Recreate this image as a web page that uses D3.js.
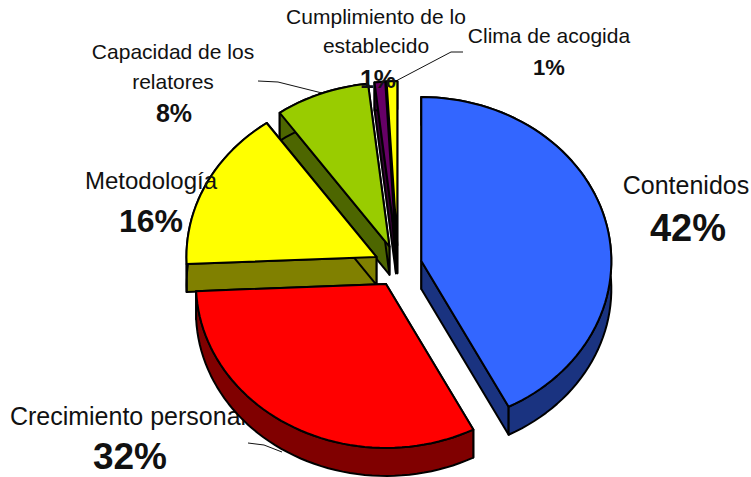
<!DOCTYPE html>
<html>
<head>
<meta charset="utf-8">
<script src="https://cdnjs.cloudflare.com/ajax/libs/d3/7.8.5/d3.min.js"></script>
<style>
  html, body { margin: 0; padding: 0; background: #fff; }
  text { font-family: "Liberation Sans", Arial, sans-serif; fill: #111; }
</style>
</head>
<body>
<div id="wrapper"></div>
<script>
const categories = ["Contenidos", "Crecimiento personal", "Metodología", "Capacidad de los relatores", "Cumplimiento de lo establecido", "Clima de acogida"]
const values = [42.4, 31.9, 15.9, 8, 0.9, 0.9]
const colors = ["#3366ff", "#ff0000", "#ffff00", "#99cc00", "#660066", "#ffff00"]

const width = 751
const height = 477
const dimensions = { cx: 398, cy: 266, rx: 190, ry: 164, depth: 28, explode: 24 }

const svg = d3.select("#wrapper").append("svg")
  .attr("width", width)
  .attr("height", height)
  .style("display", "block")

const xScale = d3.scaleLinear().domain([-1, 1]).range([dimensions.cx - dimensions.rx, dimensions.cx + dimensions.rx])
const yScale = d3.scaleLinear().domain([-1, 1]).range([dimensions.cy - dimensions.ry, dimensions.cy + dimensions.ry])

const pie = d3.pie().sort(null).startAngle(0).endAngle(2 * Math.PI)
const slices = pie(values).map((d, i) => ({ ...d, name: categories[i], color: colors[i] }))

const line = d3.line().x(d => d[0]).y(d => d[1])

// point on the ellipse, r 0..1, then pushed out along the slice's middle
const project = (slice, angle, r, drop) => {
  const mid = (slice.startAngle + slice.endAngle) / 2
  const k = dimensions.explode / dimensions.rx
  const u = r * Math.sin(angle) + k * Math.sin(mid)
  const v = -r * Math.cos(angle) - k * Math.cos(mid)
  return [xScale(u), yScale(v) + drop]
}

const rimAngles = slice => {
  const n = Math.max(2, Math.ceil((slice.endAngle - slice.startAngle) / 0.04))
  return d3.range(n + 1).map(i => slice.startAngle + (slice.endAngle - slice.startAngle) * i / n)
}

const radialWall = (slice, angle) => line([
  project(slice, angle, 0, 0),
  project(slice, angle, 1, 0),
  project(slice, angle, 1, dimensions.depth),
  project(slice, angle, 0, dimensions.depth)
]) + "Z"

const rimWall = slice => {
  const a = rimAngles(slice)
  return line([
    ...a.map(t => project(slice, t, 1, 0)),
    ...a.slice().reverse().map(t => project(slice, t, 1, dimensions.depth))
  ]) + "Z"
}

const topFace = slice => line([
  project(slice, slice.startAngle, 0, 0),
  ...rimAngles(slice).map(t => project(slice, t, 1, 0))
]) + "Z"

// leader lines and the label the pie sits on top of
const leaders = [
  [[258, 81], [278, 82], [326, 94]],
  [[463, 52], [451, 52], [394, 82]],
  [[248, 443], [264, 445], [282, 452]]
]
svg.append("g").selectAll("path")
  .data(leaders)
  .join("path")
  .attr("d", d => line(d))
  .attr("fill", "none")
  .attr("stroke", "#111")
  .attr("stroke-width", 1)

const labelBehind = svg.append("g")
const labelFront = () => svg.append("g")

const addText = (parent, str, x, y, size, bold) => parent.append("text")
  .attr("x", x)
  .attr("y", y)
  .attr("text-anchor", "middle")
  .attr("font-size", size)
  .attr("font-weight", bold ? "bold" : "normal")
  .text(str)

const pct = d => `${Math.round(d.value)}%`

addText(labelBehind, slices[1].name, 128, 425, 25, false)

// back to front
const order = [5, 4, 3, 2, 0, 1]
const pieGroup = svg.append("g")
order.forEach(i => {
  const s = slices[i]
  const dark = d3.interpolateRgb(s.color, "#000")(0.5)
  const g = pieGroup.append("g").attr("class", "slice")
  const faces = [radialWall(s, s.startAngle), radialWall(s, s.endAngle), rimWall(s)]
  g.selectAll("path.wall")
    .data(faces)
    .join("path")
    .attr("class", "wall")
    .attr("d", d => d)
    .attr("fill", dark)
    .attr("stroke", "#000")
    .attr("stroke-width", 2)
    .attr("stroke-linejoin", "round")
  g.append("path")
    .attr("class", "top")
    .attr("d", topFace(s))
    .attr("fill", s.color)
    .attr("stroke", "#000")
    .attr("stroke-width", 2)
    .attr("stroke-linejoin", "round")
})

const front = labelFront()
addText(front, "Contenidos", 686, 194, 25, false)
addText(front, pct(slices[0]), 688, 241, 38, true)
addText(labelBehind, pct(slices[1]), 130, 469, 37, true)
addText(front, slices[2].name, 151, 189, 24, false)
addText(front, pct(slices[2]), 151, 232, 32, true)
addText(front, "Capacidad de los", 173, 59, 21, false)
addText(front, "relatores", 173, 89, 21, false)
addText(front, pct(slices[3]), 174, 122, 25, true)
addText(front, "Cumplimiento de lo", 376, 24, 21, false)
addText(front, "establecido", 376, 53, 21, false)
addText(front, pct(slices[4]), 378, 88, 25, true)
addText(front, slices[5].name, 549, 43, 21, false)
addText(front, pct(slices[5]), 549, 75, 22, true)
</script>
</body>
</html>
